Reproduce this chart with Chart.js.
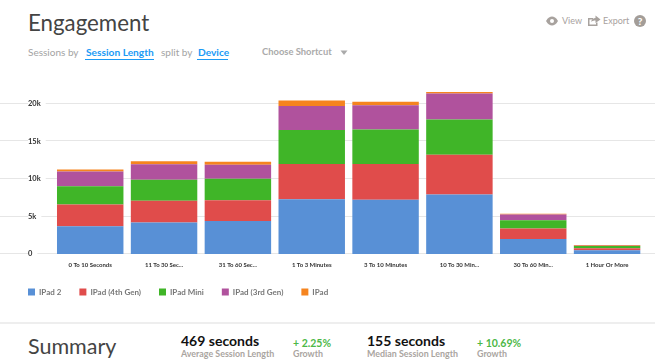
<!DOCTYPE html>
<html><head><meta charset="utf-8">
<script src="https://cdn.jsdelivr.net/npm/chart.js@4"></script>
<style>
html,body{margin:0;padding:0;background:#fff;width:655px;height:363px;overflow:hidden;font-family:Lato,sans-serif}
canvas{position:absolute;left:0;top:80px}
.t{position:absolute;white-space:nowrap;line-height:1}
.g{color:#a3a3a3;font-size:10px}
.b{color:#1b9af5;font-size:10.2px;font-weight:700}
.u{position:absolute;height:1px;background:#1b9af5;top:59px}
.h{color:#444}
.n{color:#111;font-size:14px;font-weight:700}
.s{color:#aaa59f;font-size:8.9px;font-weight:700}
.p{color:#4db848;font-size:10.5px;font-weight:700}
.i{color:#a8a29e;font-size:9px}
svg{position:absolute}
</style></head><body>
<div class="t h" style="left:28px;top:12px;font-size:22.3px">Engagement</div>
<div class="t g" style="left:28px;top:47px">Sessions by</div>
<div class="t b" style="left:86px;top:47px">Session Length</div>
<div class="u" style="left:85px;width:69px"></div>
<div class="t g" style="left:161px;top:47px">split by</div>
<div class="t b" style="left:198px;top:47px">Device</div>
<div class="u" style="left:197px;width:31px"></div>
<div class="t g" style="left:262px;top:47px;font-size:9.4px;font-weight:700;color:#aaa">Choose Shortcut</div>
<svg style="left:340px;top:50px" width="8" height="6"><path d="M0.5 0.5H7.5L4 5Z" fill="#aaa"/></svg>
<svg style="left:545px;top:15px" width="14" height="12"><path d="M1 6C3 2.5 5 1.5 7 1.5S11 2.5 13 6C11 9.5 9 10.5 7 10.5S3 9.5 1 6Z" fill="#a8a29e"/><circle cx="7" cy="6" r="2" fill="#fff"/></svg>
<div class="t i" style="left:562px;top:16px">View</div>
<svg style="left:587px;top:14px" width="14" height="13"><path d="M1 4H6V5.5H2.5V10.5H9V8.5H10.5V12H1Z" fill="#a8a29e"/><path d="M4 8C4.5 5.5 6.5 4 8.5 4V1.5L13.5 5.5L8.5 9V6.5C6.5 6.5 5 7 4 8Z" fill="#a8a29e"/></svg>
<div class="t i" style="left:603px;top:16px">Export</div>
<div class="t" style="left:634px;top:15px;width:12px;height:12px;border-radius:50%;background:#a39d98;color:#fff;font-size:10px;font-weight:900;text-align:center;line-height:12px">?</div>
<canvas id="c" width="655" height="226" style="width:655px;height:226px"></canvas>
<div style="position:absolute;left:0;top:322px;width:655px;height:2px;background:#eeeeee"></div>
<div class="t h" style="left:28px;top:336px;font-size:21.5px">Summary</div>
<div class="t n" style="left:181px;top:334px">469 seconds</div>
<div class="t s" style="left:181px;top:350px">Average Session Length</div>
<div class="t p" style="left:293px;top:338px">+ 2.25%</div>
<div class="t s" style="left:293px;top:350px">Growth</div>
<div class="t n" style="left:367px;top:334px">155 seconds</div>
<div class="t s" style="left:367px;top:350px">Median Session Length</div>
<div class="t p" style="left:477px;top:338px">+ 10.69%</div>
<div class="t s" style="left:477px;top:350px">Growth</div>
<script>
const categories = ['0 To 10 Seconds','11 To 30 Sec...','31 To 60 Sec...','1 To 3 Minutes','3 To 10 Minutes','10 To 30 Min...','30 To 60 Min...','1 Hour Or More'];
const ipad2     = [3690,4180,4400,7290,7200,7910,2000,490];
const ipad4th   = [2890,2890,2755,4665,4755,5290,1380,265];
const ipadMini  = [2440,2800,2845,4530,4580,4665,1110,310];
const ipad3rd   = [1960,2045,1865,3200,3245,3465,755,45];
const ipad      = [265,400,400,710,445,220,90,90];
const seriesNames = ['IPad 2','IPad (4th Gen)','IPad Mini','IPad (3rd Gen)','IPad'];
const seriesColors = ['#5890d6','#e04c4b','#40b528','#b0529d','#f5841f'];
const seriesValues = [ipad2,ipad4th,ipadMini,ipad3rd,ipad];
const yTicks = [0,5000,10000,15000,20000];

const fullGrid = {
  id:'fullGrid',
  beforeDraw(chart){
    const {ctx,scales:{y}} = chart;
    ctx.save();
    ctx.strokeStyle='#e6e6e6';
    ctx.lineWidth=1;
    yTicks.forEach(v=>{
      const py=Math.floor(y.getPixelForValue(v)-0.25)+0.5;
      ctx.beginPath();ctx.moveTo(0,py);ctx.lineTo(chart.width,py);ctx.stroke();
    });
    ctx.restore();
  }
};
const legendLeft = {
  id:'legendLeft',
  afterLayout(chart){ chart.legend.left = 10; }
};
new Chart(document.getElementById('c'),{
  type:'bar',
  plugins:[fullGrid,legendLeft],
  data:{labels:categories,datasets:seriesValues.map((d,i)=>({label:seriesNames[i],data:d,backgroundColor:seriesColors[i],borderWidth:0,barPercentage:0.9,categoryPercentage:1}))},
  options:{
    responsive:false,animation:false,
    layout:{padding:{left:28,right:11,top:8.5,bottom:0}},
    plugins:{
      tooltip:{enabled:false},
      legend:{position:'bottom',align:'start',labels:{boxWidth:7,boxHeight:7,padding:18,color:'#777',font:{family:'Lato',size:8,weight:'700'}}}
    },
    scales:{
      x:{stacked:true,grid:{display:false,drawTicks:false},border:{display:false},
        afterFit(s){s.height=16;},
        ticks:{maxRotation:0,autoSkip:false,padding:7,color:'#333',font:{family:'Lato',size:6,weight:'700'}}},
      y:{stacked:true,min:0,max:22000,grid:{display:false},border:{display:false},
        afterFit(s){s.width=25.3;},
        afterBuildTicks(s){s.ticks=yTicks.map(v=>({value:v}));},
        ticks:{crossAlign:'far',color:'#333',showLabelBackdrop:true,backdropColor:'#fff',backdropPadding:{left:1,right:5,top:2,bottom:2},
          font:{family:'Lato',size:7.5,weight:'700'},
          callback:v=>v===0?'0':(v/1000)+'k'}}
    }
  }
});
</script>
</body></html>
